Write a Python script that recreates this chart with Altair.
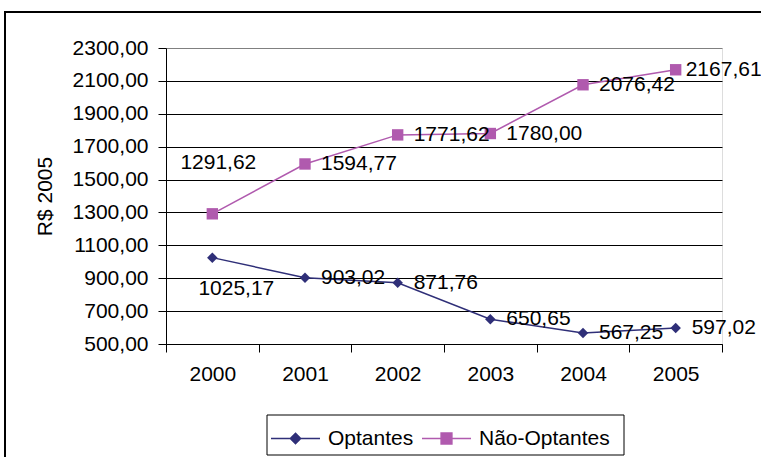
import altair as alt
import pandas as pd

# Source values (R$ de 2005)
years = ["2000", "2001", "2002", "2003", "2004", "2005"]
optantes = [1025.17, 903.02, 871.76, 650.65, 567.25, 597.02]
nao_optantes = [1291.62, 1594.77, 1771.62, 1780.00, 2076.42, 2167.61]
series_names = ["Optantes", "Não-Optantes"]
series_colors = ["#2F2F78", "#B05AAE"]
y_ticks = [500, 700, 900, 1100, 1300, 1500, 1700, 1900, 2100, 2300]

rows = []
for name, vals in zip(series_names, [optantes, nao_optantes]):
    for yr, v in zip(years, vals):
        rows.append({"ano": yr, "serie": name, "valor": v,
                     "rotulo": f"{v:.2f}".replace(".", ",")})
df = pd.DataFrame(rows)

FONT = "Liberation Sans"
FS = 21
PLOT_W, PLOT_H = 556, 296
PAD_L, PAD_T = 166, 48

x_enc = alt.X("ano:O", scale=alt.Scale(type="band", paddingInner=0, paddingOuter=0),
              axis=alt.Axis(title=None, labelAngle=0, tickBand="extent", tickSize=8,
                            tickColor="black", domainColor="black", labelPadding=11,
                            labelFontSize=FS, labelFont=FONT, labelColor="black",
                            labelOverlap=False, grid=False))
y_enc = alt.Y("valor:Q", scale=alt.Scale(domain=[500, 2300], nice=False, zero=False),
              axis=alt.Axis(title="R$ 2005", values=y_ticks, tickCount=len(y_ticks),
                            tickSize=8, tickColor="black", domainColor="black",
                            labelExpr="replace(format(datum.value, '.2f'), '.', ',')",
                            labelFontSize=FS, labelFont=FONT, labelColor="black",
                            labelPadding=10, labelOverlap=False, labelFlush=False,
                            titleFont=FONT, titleFontSize=FS,
                            titleFontWeight="normal", titleColor="black", titlePadding=17,
                            grid=True,
                            gridColor={"condition": {"test": "datum.value == 2300", "value": "#808080"},
                                       "value": "black"},
                            gridWidth=1))

# legend symbols: a short line with the series marker in the middle
legend_paths = [
    "M-1,0L1,0M0,-0.21L0.21,0L0,0.21L-0.21,0Z",
    "M-1,0L1,0M-0.22,-0.22L0.22,-0.22L0.22,0.22L-0.22,0.22Z",
]
legend_x = [104, 255]
marker_shapes = ["diamond", "square"]
marker_sizes = [110, 130]

series_layers = []
for name, color, path, lx, shp, sz in zip(series_names, series_colors, legend_paths,
                                          legend_x, marker_shapes, marker_sizes):
    part = alt.Chart(df).transform_filter(alt.datum.serie == name)
    line = part.mark_line(strokeWidth=1.5).encode(
        x=x_enc, y=y_enc,
        color=alt.Color("serie:N", scale=alt.Scale(domain=[name], range=[color]),
                        legend=alt.Legend(title=None, orient="none", legendX=lx, legendY=365,
                                          symbolType=path, symbolSize=2401,
                                          symbolStrokeWidth=1.5, symbolFillColor=color,
                                          symbolStrokeColor=color, symbolOpacity=1,
                                          labelFont=FONT, labelFontSize=FS,
                                          labelColor="black", labelOffset=7, padding=0)),
    )
    pts = part.mark_point(filled=True, opacity=1, shape=shp, size=sz, color=color).encode(
        x="ano:O", y="valor:Q")
    series_layers += [line, pts]

special = "(datum.ano == '2000') || (datum.serie == 'Não-Optantes' && datum.ano == '2005')"

def label_layer(filter_expr, **kw):
    return alt.Chart(df).transform_filter(filter_expr).mark_text(
        font=FONT, fontSize=FS, color="black", baseline="middle", **kw
    ).encode(x="ano:O", y="valor:Q", text="rotulo:N")

labels = [
    label_layer(f"!({special})", align="left", dx=16),
    label_layer("datum.serie == 'Optantes' && datum.ano == '2000'",
                align="center", dx=24, dy=31),
    label_layer("datum.serie == 'Não-Optantes' && datum.ano == '2000'",
                align="center", dx=6, dy=-51),
    label_layer("datum.serie == 'Não-Optantes' && datum.ano == '2005'",
                align="left", dx=10),
]

one = pd.DataFrame({"k": [0]})
# frame around the whole chart
frame = alt.Chart(one).mark_rect(
    fill=None, stroke="black", strokeWidth=2, clip=False
).encode(x=alt.value(5 - PAD_L), x2=alt.value(770 - PAD_L),
         y=alt.value(12 - PAD_T), y2=alt.value(470 - PAD_T))
# box around the legend entries
legend_box = alt.Chart(one).mark_rect(
    fill="white", stroke="black", strokeWidth=1, clip=False
).encode(x=alt.value(267 - PAD_L), x2=alt.value(624 - PAD_L),
         y=alt.value(415 - PAD_T), y2=alt.value(455 - PAD_T))

chart = alt.layer(
    frame, legend_box, *series_layers, *labels
).resolve_scale(
    color="independent"
).properties(
    width=PLOT_W, height=PLOT_H,
    autosize=alt.AutoSizeParams(type="none"),
    padding={"left": PAD_L, "top": PAD_T, "right": 761 - PAD_L - PLOT_W,
             "bottom": 457 - PAD_T - PLOT_H},
).configure_view(
    stroke="#808080", strokeWidth=1
).configure(background="white")

chart.save("out.html", embed_options={"renderer": "svg", "actions": False})
